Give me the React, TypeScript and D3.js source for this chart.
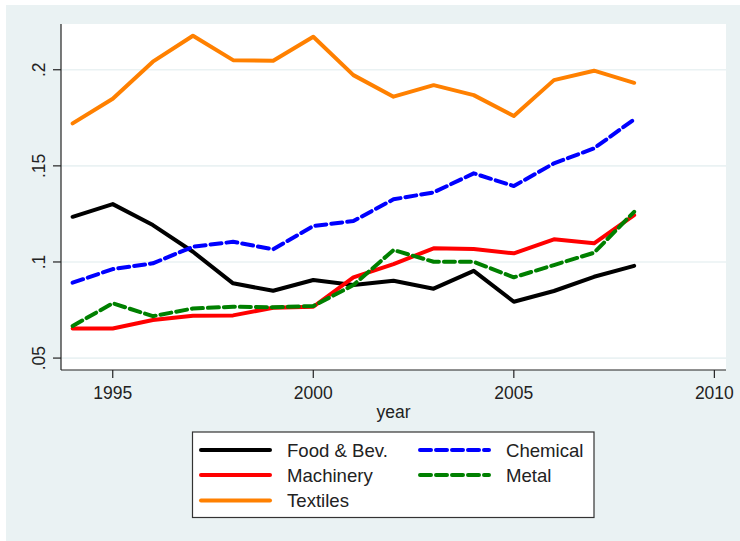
import React, { useEffect, useRef } from "react";
import * as d3 from "d3";

// Share by sector, 1994-2008
const years = [1994, 1995, 1996, 1997, 1998, 1999, 2000, 2001, 2002, 2003, 2004, 2005, 2006, 2007, 2008];

const foodBev = [0.1235, 0.1301, 0.1192, 0.1053, 0.0889, 0.085, 0.0906, 0.088, 0.0902, 0.0861, 0.0954, 0.0793, 0.0849, 0.0923, 0.098];
const chemical = [0.0892, 0.0963, 0.0993, 0.1079, 0.1105, 0.1066, 0.1187, 0.1213, 0.1326, 0.1362, 0.1461, 0.1395, 0.1513, 0.1591, 0.1742];
const machinery = [0.0654, 0.0654, 0.0698, 0.072, 0.0722, 0.0762, 0.0767, 0.092, 0.0989, 0.1071, 0.1067, 0.1045, 0.1118, 0.1097, 0.1244];
const metal = [0.0667, 0.0785, 0.0718, 0.0758, 0.0767, 0.0764, 0.0771, 0.088, 0.1062, 0.1001, 0.1001, 0.092, 0.0984, 0.1048, 0.1261];
const textiles = [0.1721, 0.1849, 0.2042, 0.2177, 0.205, 0.2047, 0.2172, 0.1972, 0.186, 0.192, 0.1868, 0.1759, 0.1946, 0.1995, 0.1932];

const yTicks = [0.05, 0.1, 0.15, 0.2];
const yTickLabels = [".05", ".1", ".15", ".2"];
const xTicks = [1995, 2000, 2005, 2010];

const seriesNames = ["Food & Bev.", "Chemical", "Machinery", "Metal", "Textiles"];
const seriesValues = [foodBev, chemical, machinery, metal, textiles];
const seriesColors = ["#000000", "#0000ff", "#ff0000", "#008000", "#ff8000"];
const seriesDashed = [false, true, false, true, false];

const W = 740;
const H = 541;
const FONT = "'Liberation Sans', Arial, sans-serif";
const BG = "#eaf2f3";

export default function App() {
  const ref = useRef<SVGSVGElement>(null);

  useEffect(() => {
    const svg = d3.select(ref.current);
    svg.selectAll("*").remove();

    const plot = { left: 61, right: 726, top: 24, bottom: 370 };

    const x = d3.scaleLinear().domain([1993.71, 2010.29]).range([plot.left, plot.right]);
    const y = d3.scaleLinear().domain([0.0438, 0.2238]).range([plot.bottom, plot.top]);

    // graph region
    svg.append("rect").attr("x", 0).attr("y", 0).attr("width", W).attr("height", H).attr("fill", "#ffffff");
    svg.append("rect").attr("x", 6).attr("y", 5).attr("width", W - 6).attr("height", H - 5).attr("fill", BG);

    // plot region
    svg
      .append("rect")
      .attr("x", plot.left)
      .attr("y", plot.top)
      .attr("width", plot.right - plot.left)
      .attr("height", plot.bottom - plot.top)
      .attr("fill", "#ffffff");

    // grid lines
    svg
      .append("g")
      .selectAll("line")
      .data(yTicks)
      .join("line")
      .attr("x1", plot.left)
      .attr("x2", plot.right)
      .attr("y1", (d) => y(d))
      .attr("y2", (d) => y(d))
      .attr("stroke", BG)
      .attr("stroke-width", 1.6);

    // series lines
    const line = d3
      .line<number>()
      .x((_, i) => x(years[i]))
      .y((d) => y(d));

    const lines = svg.append("g");
    seriesValues.forEach((vals, k) => {
      lines
        .append("path")
        .datum(vals)
        .attr("d", line)
        .attr("fill", "none")
        .attr("stroke", seriesColors[k])
        .attr("stroke-width", 4)
        .attr("stroke-linejoin", "round")
        .attr("stroke-linecap", "round")
        .attr("stroke-dasharray", seriesDashed[k] ? "11 5" : null);
    });

    // y axis
    const yAxis = svg.append("g");
    yAxis
      .append("line")
      .attr("x1", plot.left)
      .attr("x2", plot.left)
      .attr("y1", plot.top)
      .attr("y2", plot.bottom)
      .attr("stroke", "#222")
      .attr("stroke-width", 1.2);
    yTicks.forEach((t, i) => {
      yAxis
        .append("line")
        .attr("x1", plot.left - 8)
        .attr("x2", plot.left)
        .attr("y1", y(t))
        .attr("y2", y(t))
        .attr("stroke", "#222")
        .attr("stroke-width", 1.2);
      yAxis
        .append("text")
        .attr("transform", `translate(45,${y(t)}) rotate(-90)`)
        .attr("text-anchor", "middle")
        .attr("font-family", FONT)
        .attr("font-size", 17.5)
        .attr("fill", "#222")
        .text(yTickLabels[i]);
    });

    // x axis
    const xAxis = svg.append("g");
    xAxis
      .append("line")
      .attr("x1", plot.left)
      .attr("x2", plot.right)
      .attr("y1", plot.bottom)
      .attr("y2", plot.bottom)
      .attr("stroke", "#222")
      .attr("stroke-width", 1.2);
    xTicks.forEach((t) => {
      xAxis
        .append("line")
        .attr("x1", x(t))
        .attr("x2", x(t))
        .attr("y1", plot.bottom)
        .attr("y2", plot.bottom + 8)
        .attr("stroke", "#222")
        .attr("stroke-width", 1.2);
      xAxis
        .append("text")
        .attr("x", x(t))
        .attr("y", 399)
        .attr("text-anchor", "middle")
        .attr("font-family", FONT)
        .attr("font-size", 17.5)
        .attr("fill", "#222")
        .text(String(t));
    });
    xAxis
      .append("text")
      .attr("x", (plot.left + plot.right) / 2)
      .attr("y", 418)
      .attr("text-anchor", "middle")
      .attr("font-family", FONT)
      .attr("font-size", 17.5)
      .attr("fill", "#222")
      .text("year");

    // legend
    const lg = svg.append("g");
    lg.append("rect")
      .attr("x", 192.5)
      .attr("y", 432)
      .attr("width", 401.5)
      .attr("height", 85.5)
      .attr("fill", "#ffffff")
      .attr("stroke", "#333")
      .attr("stroke-width", 1.2);

    const colX = [199, 418];
    const rowY = [450, 475, 500.5];
    seriesNames.forEach((name, k) => {
      const c = k % 2;
      const r = Math.floor(k / 2);
      const x0 = colX[c];
      const yy = rowY[r];
      lg.append("line")
        .attr("x1", x0 + 2)
        .attr("x2", x0 + 71)
        .attr("y1", yy)
        .attr("y2", yy)
        .attr("stroke", seriesColors[k])
        .attr("stroke-width", 4)
        .attr("stroke-linecap", "round")
        .attr("stroke-dasharray", seriesDashed[k] ? "11 5" : null);
      lg.append("text")
        .attr("x", x0 + 88)
        .attr("y", yy + 6.5)
        .attr("font-family", FONT)
        .attr("font-size", 18.6)
        .attr("fill", "#222")
        .text(name);
    });
  }, []);

  return (
    <div style={{ position: "fixed", left: 0, top: 0 }}>
      <svg ref={ref} width={W} height={H} style={{ display: "block" }} />
    </div>
  );
}
